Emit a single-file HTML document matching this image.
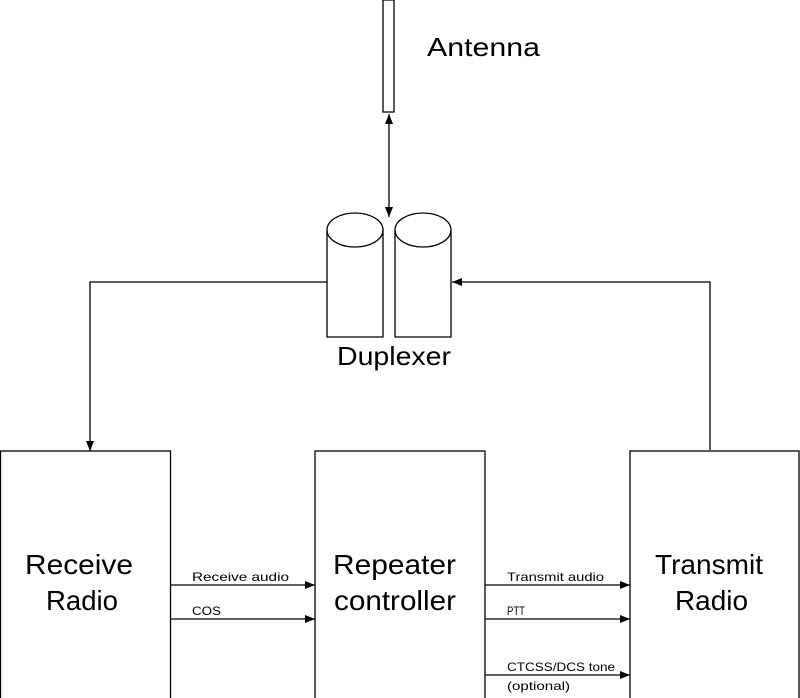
<!DOCTYPE html>
<html><head><style>body{margin:0;background:#fff}</style></head><body>
<svg width="800" height="698" viewBox="0 0 800 698" xmlns="http://www.w3.org/2000/svg" style="display:block">
<defs><marker id="a" markerWidth="10" markerHeight="8" refX="10" refY="4" orient="auto" markerUnits="userSpaceOnUse"><path d="M0,0 L10,4 L0,8 z" fill="#000"/></marker>
<marker id="b" markerWidth="10" markerHeight="8" refX="0" refY="4" orient="auto" markerUnits="userSpaceOnUse"><path d="M10,0 L0,4 L10,8 z" fill="#000"/></marker></defs>
<g fill="none" stroke="#000" stroke-width="1.3">
<rect x="383" y="0" width="11" height="112"/>
<line x1="389" y1="114" x2="389" y2="217" marker-start="url(#b)" marker-end="url(#a)"/>
<path d="M327,230 V337 H383 V230"/><ellipse cx="355" cy="230" rx="28" ry="17"/>
<path d="M395,230 V337 H451 V230"/><ellipse cx="423" cy="230" rx="28" ry="17"/>
<polyline points="327,282 90,282 90,451" marker-end="url(#a)"/>
<polyline points="710,450 710,282 452,282" marker-end="url(#a)"/>
<rect x="0.5" y="451" width="170" height="260"/>
<rect x="315" y="451" width="170" height="260"/>
<rect x="630" y="451" width="169" height="260"/>
<line x1="170" y1="585" x2="315" y2="585" marker-end="url(#a)"/>
<line x1="170" y1="619" x2="315" y2="619" marker-end="url(#a)"/>
<line x1="485" y1="585" x2="630" y2="585" marker-end="url(#a)"/>
<line x1="485" y1="619" x2="630" y2="619" marker-end="url(#a)"/>
<line x1="485" y1="675" x2="630" y2="675" marker-end="url(#a)"/>
</g>
<g font-family="Liberation Sans, sans-serif" fill="#000">
<text x="427" y="56" font-size="26" textLength="113" lengthAdjust="spacingAndGlyphs">Antenna</text>
<text x="337" y="365" font-size="26" textLength="114" lengthAdjust="spacingAndGlyphs">Duplexer</text>
<g font-size="28">
<text x="25" y="574" textLength="108" lengthAdjust="spacingAndGlyphs">Receive</text><text x="46" y="610" textLength="72" lengthAdjust="spacingAndGlyphs">Radio</text>
<text x="333" y="574" textLength="123" lengthAdjust="spacingAndGlyphs">Repeater</text><text x="334" y="610" textLength="122" lengthAdjust="spacingAndGlyphs">controller</text>
<text x="655" y="574" textLength="108" lengthAdjust="spacingAndGlyphs">Transmit</text><text x="675" y="610" textLength="73" lengthAdjust="spacingAndGlyphs">Radio</text>
</g>
<g font-size="12">
<text x="192" y="581" textLength="97" lengthAdjust="spacingAndGlyphs">Receive audio</text><text x="192" y="615" textLength="29" lengthAdjust="spacingAndGlyphs">COS</text>
<text x="507" y="581" textLength="97" lengthAdjust="spacingAndGlyphs">Transmit audio</text><text x="507" y="615" textLength="18" lengthAdjust="spacingAndGlyphs">PTT</text>
<text x="507" y="671" textLength="108" lengthAdjust="spacingAndGlyphs">CTCSS/DCS tone</text><text x="507" y="690" textLength="63" lengthAdjust="spacingAndGlyphs">(optional)</text>
</g></g>
</svg></body></html>
